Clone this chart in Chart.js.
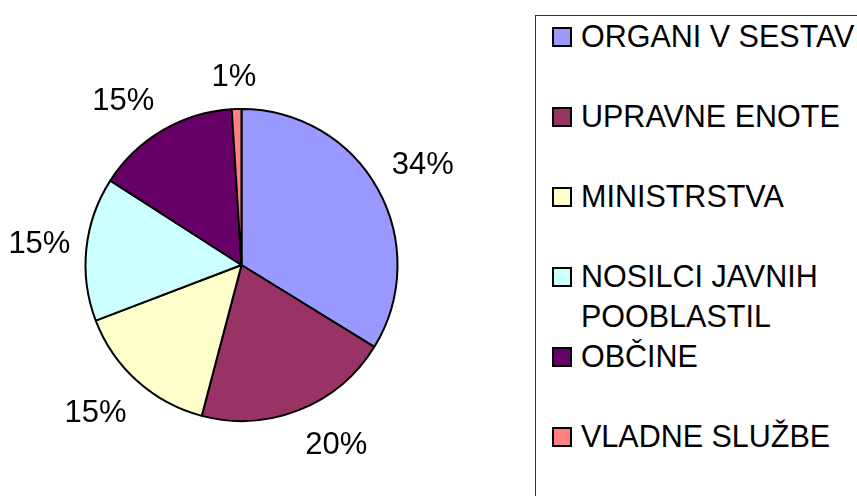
<!DOCTYPE html>
<html>
<head>
<meta charset="utf-8">
<script src="https://cdn.jsdelivr.net/npm/chart.js@4/dist/chart.umd.min.js"></script>
<style>
  html, body { margin: 0; padding: 0; background: #fff; overflow: hidden; }
  body { width: 857px; height: 496px; position: relative; font-family: "Liberation Sans", Arial, sans-serif; }
  #chartBox { position: absolute; left: 0; top: 0; width: 483px; height: 496px; }
  #legend { position: absolute; left: 535px; top: 15px; width: 400px; height: 500px;
            border: 1px solid #333; box-sizing: border-box; }
  .item { position: absolute; left: 16px; display: flex; align-items: flex-start; font-size: 30.5px; line-height: 40px; color: #000; }
  .sw { width: 20px; height: 20px; box-sizing: border-box; border: 2px solid #000; margin-top: 11px; margin-right: 9px; flex: none; }
  .txt { width: 300px; white-space: normal; }
</style>
</head>
<body>
<div id="chartBox"><canvas id="c"></canvas></div>
<div id="legend"></div>
<script>
const categories = ["ORGANI V SESTAVI", "UPRAVNE ENOTE", "MINISTRSTVA", "NOSILCI JAVNIH POOBLASTIL", "OBČINE", "VLADNE SLUŽBE"];
const values = [33.8, 20.3, 15.1, 14.9, 14.9, 1.0];
const colors = ["#9999FF", "#993366", "#FFFFCC", "#CCFFFF", "#660066", "#FF8080"];

const total = values.reduce((a, b) => a + b, 0);
const pctLabels = values.map(v => Math.round(v / total * 100) + "%");

// HTML legend
const legend = document.getElementById("legend");
categories.forEach((name, i) => {
  const d = document.createElement("div");
  d.className = "item";
  d.style.top = (i * 80) + "px";
  const s = document.createElement("div");
  s.className = "sw";
  s.style.background = colors[i];
  const t = document.createElement("div");
  t.className = "txt";
  t.textContent = name;
  d.appendChild(s); d.appendChild(t);
  legend.appendChild(d);
});

const clamp = v => Math.max(-1, Math.min(1, v));

const outsideLabels = {
  id: "outsideLabels",
  afterDatasetsDraw(chart) {
    const ctx = chart.ctx;
    const meta = chart.getDatasetMeta(0);
    const fontSize = 31;
    ctx.save();
    ctx.font = fontSize + "px 'Liberation Sans', Arial, sans-serif";
    ctx.fillStyle = "#000";
    ctx.textAlign = "center";
    ctx.textBaseline = "alphabetic";
    meta.data.forEach((arc, i) => {
      const p = arc.getProps(["x", "y", "startAngle", "endAngle", "outerRadius"], true);
      const mid = (p.startAngle + p.endAngle) / 2;
      const ux = Math.cos(mid), uy = Math.sin(mid);
      const txt = pctLabels[i];
      const halfW = ctx.measureText(txt).width / 2;
      const R = p.outerRadius + 16;
      const cx = p.x + ux * R + halfW * clamp(3 * ux);
      const cy = p.y + uy * R + 18 * clamp(3 * uy);
      ctx.fillText(txt, cx, cy + fontSize * 0.716 / 2);
    });
    ctx.restore();
  }
};

new Chart(document.getElementById("c"), {
  type: "pie",
  data: {
    labels: categories,
    datasets: [{
      data: values,
      backgroundColor: colors,
      borderColor: "#000",
      borderWidth: 2,
      radius: 156
    }]
  },
  options: {
    responsive: true,
    maintainAspectRatio: false,
    animation: false,
    layout: { padding: { top: 34 } },
    plugins: { legend: { display: false }, tooltip: { enabled: false } }
  },
  plugins: [outsideLabels]
});
</script>
</body>
</html>
